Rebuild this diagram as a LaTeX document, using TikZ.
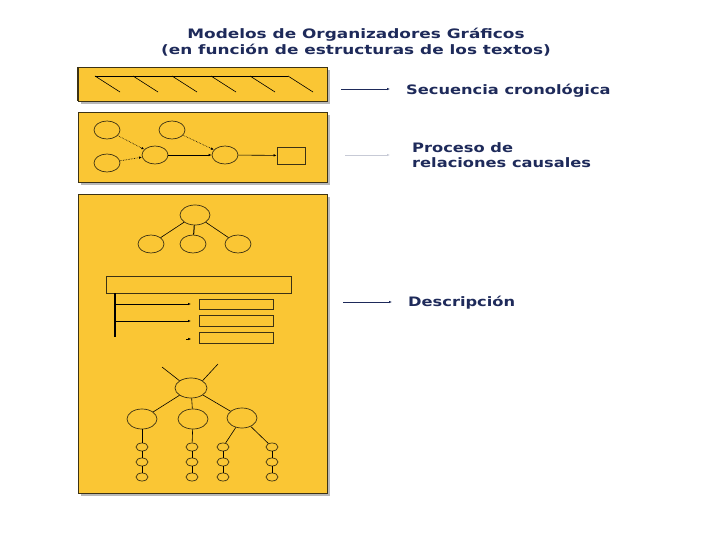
\documentclass[tikz,border=0pt]{standalone}
\usepackage{fontspec}
\setmainfont{DejaVu Sans}
\usetikzlibrary{arrows.meta,shapes.geometric}
\definecolor{boxyellow}{RGB}{250,198,52}
\definecolor{navy}{RGB}{30,42,90}
\definecolor{edge}{RGB}{60,50,20}
\tikzset{
  panel/.style={draw=edge, line width=0.8pt, fill=boxyellow},
  panelshadow/.style={fill=black!28},
  oval/.style={draw=edge, ellipse, line width=0.7pt, minimum width=26pt, minimum height=18pt, inner sep=0pt},
  bigoval/.style={oval, minimum width=30pt, minimum height=20pt},
  leaf/.style={oval, minimum width=12pt, minimum height=8pt},
  boxn/.style={draw=edge, line width=0.7pt, inner sep=0pt},
  ln/.style={draw=black, line width=0.6pt},
  dotarr/.style={draw=black, line width=0.6pt, densely dotted, -{Latex[length=3pt,width=2.5pt]}},
  solarr/.style={draw=black, line width=0.6pt, -{Latex[length=3pt,width=2.5pt]}},
  sidearr/.style={draw=navy, line width=0.7pt, -{Latex[length=3pt,width=2.5pt]}},
  label/.style={text=navy, font=\bfseries\fontsize{13}{15}\selectfont, anchor=west, inner sep=0pt, align=left},
  ttl/.style={text=navy, font=\bfseries\fontsize{13}{15.5}\selectfont, inner sep=0pt, align=center}
}
\begin{document}
\begin{tikzpicture}[x=1pt,y=-1pt]
\useasboundingbox (0,0) rectangle (720,540);
% title
\node[ttl] (title) at (356,42) {\scalebox{1.3}[1]{Modelos de Organizadores Gráficos}\\\scalebox{1.3}[1]{(en función de estructuras de los textos)}};

% panels with shadows
\fill[panelshadow] (81,70) rectangle (330,104);
\draw[panel] (78,67) rectangle (327,101);
\draw[edge, line width=1.6pt] (78,67) -- (78,101);
\fill[panelshadow] (81,115) rectangle (330,185);
\draw[panel] (78,112) rectangle (327,182);
\fill[panelshadow] (81,197) rectangle (330,496);
\draw[panel] (78,194) rectangle (327,493);

% --- panel 1: timeline hatch
\coordinate (h0) at (95,76);
\coordinate (h5) at (288,76);
\draw[ln] (h0) -- (h5);
\foreach \x in {95,133,172,211,250,288}{
  \draw[ln] (\x,76) -- (\x+25,92);
}

% --- panel 2: causal process
\node[oval] (c1) at (107,130) {};
\node[oval] (c2) at (107,163) {};
\node[oval] (c3) at (155,155) {};
\node[oval] (c4) at (172,130) {};
\node[oval] (c5) at (225,155) {};
\node[boxn, minimum width=28pt, minimum height=17pt] (c6) at (291,155.5) {};
\draw[dotarr] (c1) -- (c3);
\draw[dotarr] (c2) -- (c3);
\draw[dotarr] (c4) -- (c5);
\draw[solarr] (c3) -- (c5);
\draw[solarr] (c5) -- (c6);

% --- panel 3a: small tree
\node[bigoval] (t0) at (195,215) {};
\node[oval] (t1) at (151,244) {};
\node[oval] (t2) at (193,244) {};
\node[oval] (t3) at (238,244) {};
\draw[ln] (t0) -- (t1);
\draw[ln, line width=1pt] (t0) -- (t2);
\draw[ln] (t0) -- (t3);

% --- panel 3b: list
\node[boxn, minimum width=185pt, minimum height=17pt] (bar) at (198.5,284.5) {};
\node[boxn, minimum width=74pt, minimum height=10pt] (r1) at (236,304) {};
\node[boxn, minimum width=74pt, minimum height=11pt] (r2) at (236,321) {};
\node[boxn, minimum width=74pt, minimum height=11pt] (r3) at (236,337.5) {};
\coordinate (vtop) at (115,293);
\coordinate (vbot) at (115,337);
\draw[ln, line width=1.2pt] (vtop) -- (vbot);
\coordinate (a1) at (115,304);
\coordinate (a2) at (115,321);
\coordinate (e1) at (191,304);
\coordinate (e2) at (191,321);
\coordinate (e3a) at (186,339);
\coordinate (e3) at (191,339);
\draw[solarr] (a1) -- (e1);
\draw[solarr] (a2) -- (e2);
\draw[solarr, line width=0.3pt] (e3a) -- (e3);

% --- panel 3c: big tree
\node[bigoval, minimum width=32pt] (g0) at (191,388) {};
\coordinate (g0l) at (162,367);
\coordinate (g0r) at (218,364);
\draw[ln] (g0l) -- (g0.north west);
\draw[ln] (g0r) -- (g0.north east);
\node[bigoval] (g1) at (142,419) {};
\node[bigoval] (g2) at (193,419) {};
\node[bigoval] (g3) at (242,418) {};
\draw[ln] (g0) -- (g1);
\draw[ln] (g0) -- (g2);
\draw[ln] (g0) -- (g3);
\foreach \c/\x in {1/142,2/192,3/223,4/272}{
  \node[leaf] (l\c a) at (\x,447) {};
  \node[leaf] (l\c b) at (\x,462) {};
  \node[leaf] (l\c c) at (\x,477) {};
  \draw[ln] (l\c a) -- (l\c b);
  \draw[ln] (l\c b) -- (l\c c);
}
\draw[ln] (g1) -- (l1a);
\draw[ln] (g2) -- (l2a);
\draw[ln] (g3) -- (l3a);
\draw[ln] (g3) -- (l4a);

% --- right side labels
\node[label] (s1) at (406,91) {\scalebox{1.25}[1]{Secuencia cronológica}};
\node[label] (s2) at (412,155) {\scalebox{1.25}[1]{Proceso de}\\\scalebox{1.25}[1]{relaciones causales}};
\node[label] (s3) at (408,303) {\scalebox{1.25}[1]{Descripción}};
\coordinate (p1) at (341,89);
\coordinate (q1) at (390,89);
\coordinate (p2) at (345,155);
\coordinate (q2) at (390,155);
\coordinate (p3) at (343,302);
\coordinate (q3) at (392,302);
\draw[sidearr] (p1) -- (q1);
\draw[sidearr, draw=navy!25] (p2) -- (q2);
\draw[sidearr] (p3) -- (q3);
\end{tikzpicture}
\end{document}
